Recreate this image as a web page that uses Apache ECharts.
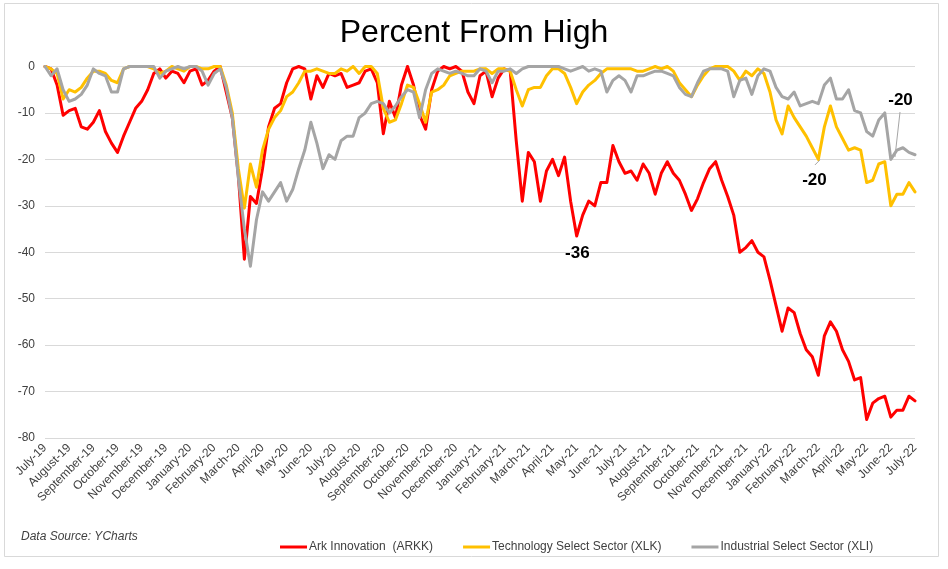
<!DOCTYPE html>
<html>
<head>
<meta charset="utf-8">
<title>Percent From High</title>
<script src="https://cdn.jsdelivr.net/npm/echarts@6/dist/echarts.min.js"></script>
<style>
    body { margin: 0; background: #fff; }
    #chart { width: 948px; height: 569px; }
</style>
</head>
<body>
<div id="chart"></div>
<script>
    // month labels on the x axis, one per month start
    const months = [
        'July-19','August-19','September-19','October-19','November-19','December-19',
        'January-20','February-20','March-20','April-20','May-20','June-20',
        'July-20','August-20','September-20','October-20','November-20','December-20',
        'January-21','February-21','March-21','April-21','May-21','June-21',
        'July-21','August-21','September-21','October-21','November-21','December-21',
        'January-22','February-22','March-22','April-22','May-22','June-22','July-22'
    ]
    const yTicks = [0, -10, -20, -30, -40, -50, -60, -70, -80]

    // weekly readings (4 per month), percent from high
    const ark = [
        0, -0.5, -4, -10.5, -9.5, -9, -13, -13.5,
        -12, -9.5, -14, -16.5, -18.5, -15, -12, -9,
        -7.5, -5, -1.5, -0.5, -2.5, -1, -1.5, -3.5,
        -1, -0.5, -4, -3, -1, 0, -5.5, -11,
        -23.5, -41.5, -28, -29.5, -22, -13, -9, -8,
        -3.5, -0.5, 0, -0.5, -7, -2, -4.5, -1.5,
        -2, -1.5, -4.5, -4, -3.5, -1, -0.5, -3.5,
        -14.5, -7.5, -11, -4, 0, -4, -10.5, -13.5,
        -5, -1, 0, -0.5, 0, -1, -5.5, -8,
        -2, -1, -6.5, -2.5, -0.5, -1, -16, -29,
        -18.5, -20.5, -29, -22.5, -20, -23.5, -19.5, -29,
        -36.5, -32, -29, -30, -25, -25, -17, -20.5,
        -23, -22.5, -24.5, -21, -23, -27.5, -23, -20.5,
        -23, -24.5, -27.5, -31, -28.5, -25, -22, -20.5,
        -24.5, -28, -32, -40, -39, -37.5, -40, -41,
        -46, -51.5, -57, -52, -53, -57.5, -61, -62.5,
        -66.5, -58, -55, -57, -61, -63.5, -67.5, -67,
        -76, -72.5, -71.5, -71, -75.5, -74, -74, -71,
        -72
    ]
    const xlk = [
        0, -0.5, -1.5, -7, -5, -5.5, -4.5, -2.5,
        -1, -1, -1.5, -3, -3.5, -0.5, 0, 0,
        0, 0, -0.5, -1.5, -1, 0, -0.5, -1,
        0, 0, -0.5, -0.5, 0, 0, -4, -10,
        -22, -30.5, -21, -26, -18, -13.5, -11, -9.5,
        -6.5, -5.5, -3.5, -1, -1, -0.5, -1, -1.5,
        -1.5, -0.5, -1, 0, -1.5, 0, 0, -1.5,
        -9, -12, -11.5, -8, -4, -4.5, -8, -12,
        -5.5, -5, -4, -2, -1.5, -1, -1, -1,
        -0.5, -0.5, -1.5, -0.5, -0.5, -1, -5, -8.5,
        -5, -4.5, -4.5, -2, -0.5, -0.5, -1.5, -4.5,
        -8, -5.5, -4, -3, -1.5, -0.5, -0.5, -0.5,
        -0.5, -0.5, -1, -1, -0.5, 0, -0.5, 0,
        -1, -3.5, -5, -6.5, -4, -2, -0.5, 0,
        0, 0, -1, -3, -1, -2, -0.5, -1.5,
        -5.5, -11.5, -14.5, -8.5, -11, -13, -15, -17.5,
        -20, -13, -8.5, -13, -15.5, -18, -17.5, -18,
        -25, -24.5, -21, -20.5, -30, -27.5, -27.5, -25,
        -27
    ]
    const xli = [
        0, -2, -0.5, -5, -7.5, -7, -6, -4,
        -0.5, -1.5, -2, -5.5, -5.5, -0.5, 0, 0,
        0, 0, 0, -2.5, -1, -0.5, 0, -0.5,
        0, 0, -1, -4, -1.5, -0.5, -4.5, -11,
        -24, -35, -43, -33, -27, -29, -27, -25,
        -29, -26.5, -22, -18, -12, -16.5, -22, -19,
        -20, -16, -15, -15, -11, -10, -8, -7.5,
        -8, -10, -8.5, -6.5, -5, -5.5, -11, -5,
        -1.5, -0.5, -1, -1.5, -1, -1.5, -2, -2,
        -0.5, -1, -3.5, -1, -1, -0.5, -1.5, -0.5,
        0, 0, 0, 0, 0, 0, -0.5, -1,
        -0.5, 0, -1, -0.5, -1, -5.5, -3, -2,
        -3, -5.5, -2, -2, -1.5, -1, -1, -1.5,
        -2, -4.5, -6, -6.5, -3.5, -1, -0.5, -0.5,
        -0.5, -1, -6.5, -3, -2.5, -6, -2, -0.5,
        -1, -4.5, -6.5, -7, -5.5, -8.5, -8, -7.5,
        -8, -4, -2.5, -7, -7, -5, -9.5, -10,
        -14, -15, -11.5, -10, -20, -18, -17.5, -18.5,
        -19
    ]

    const seriesNames = ['Ark Innovation  (ARKK)', 'Technology Select Sector (XLK)', 'Industrial Select Sector (XLI)']
    const seriesColors = ['#ff0000', '#ffc000', '#a5a5a5']

    const font = "'Liberation Sans', Arial, sans-serif"
    const textColor = '#404040'

    // x position of each reading in months since July-19
    const toPoints = arr => arr.map((v, i) => [i / 4, v])

    // label shown next to the low points
    const note = (name, coord) => ({
        symbol: 'circle',
        symbolSize: 1,
        itemStyle: { color: 'rgba(0,0,0,0)' },
        label: {
            show: true,
            position: 'inside',
            formatter: p => p.name,
            fontFamily: font,
            fontSize: 17,
            fontWeight: 'bold',
            color: '#000'
        },
        data: [{ name: name, coord: coord }]
    })
    const leader = (from, to) => ({
        silent: true,
        symbol: ['none', 'none'],
        label: { show: false },
        lineStyle: { color: '#a6a6a6', width: 1, type: 'solid' },
        data: [[{ coord: from }, { coord: to }]]
    })

    const line = (idx, values, extra) => Object.assign({
        name: seriesNames[idx],
        type: 'line',
        data: toPoints(values),
        showSymbol: false,
        symbol: 'none',
        color: seriesColors[idx],
        lineStyle: { color: seriesColors[idx], width: 3, join: 'round', cap: 'round' }
    }, extra || {})

    const mychart = echarts.init(document.getElementById('chart'))
    mychart.setOption({
        animation: false,
        backgroundColor: '#fff',
        title: {
            text: 'Percent From High',
            left: 'center',
            top: 17,
            padding: 0,
            textStyle: { fontFamily: font, fontSize: 32, fontWeight: 'normal', color: '#000' }
        },
        grid: { left: 45, right: 33, top: 66.5, bottom: 131 },
        xAxis: {
            type: 'value',
            min: 0,
            max: months.length - 1,
            interval: 1,
            axisLine: { show: false },
            axisTick: { show: false },
            splitLine: { show: false },
            axisLabel: {
                rotate: 45,
                margin: 8,
                fontFamily: font,
                fontSize: 12,
                color: textColor,
                formatter: v => months[v] || ''
            }
        },
        yAxis: {
            type: 'value',
            min: yTicks[yTicks.length - 1],
            max: yTicks[0],
            interval: 10,
            axisLine: { show: false },
            axisTick: { show: false },
            splitLine: { lineStyle: { color: '#d9d9d9', width: 1 } },
            axisLabel: { margin: 10, fontFamily: font, fontSize: 12, color: textColor }
        },
        legend: {
            data: seriesNames,
            left: 275,
            top: 536,
            icon: 'rect',
            itemWidth: 27,
            itemHeight: 3,
            itemGap: 30,
            textStyle: { fontFamily: font, fontSize: 12, color: textColor, padding: [0, 0, 0, -3] }
        },
        graphic: [
            {
                type: 'rect',
                shape: { x: 4.5, y: 3.5, width: 934, height: 553 },
                style: { fill: 'none', stroke: '#d9d9d9', lineWidth: 1 },
                silent: true
            },
            {
                type: 'text',
                left: 21,
                top: 531,
                style: {
                    text: 'Data Source: YCharts',
                    font: "italic 12px 'Liberation Sans', Arial, sans-serif",
                    fill: textColor
                }
            }
        ],
        series: [
            line(0, ark, { markPoint: note('-36', [22.03, -40.3]) }),
            line(1, xlk, {
                markPoint: note('-20', [31.84, -24.55]),
                markLine: leader([31.86, -21.2], [32.07, -20.1])
            }),
            line(2, xli, {
                markPoint: note('-20', [35.4, -7.2]),
                markLine: leader([35.38, -9.8], [35.17, -19.5])
            })
        ]
    })
</script>
</body>
</html>
